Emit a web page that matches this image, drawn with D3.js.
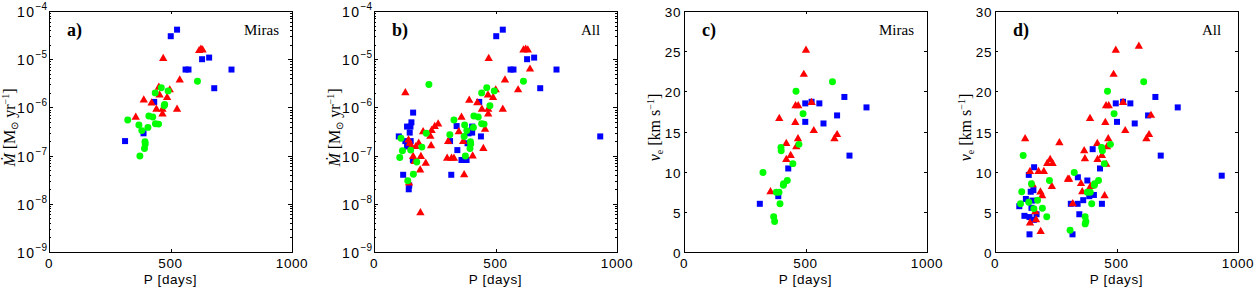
<!DOCTYPE html>
<html>
<head>
<meta charset="utf-8">
<script src="https://cdn.jsdelivr.net/npm/d3@7"></script>
<style>
body { margin: 0; background: #fff; }
text { fill: #000; }
</style>
</head>
<body>
<div id="chart"></div>
<script>
// ---- a) Miras : P [days] vs mass-loss rate ----
const aBlue = [[501,3.0e-5],[527,4.1e-5],[562,6.1e-6],[574,6.1e-6],[630,1.0e-5],[659,1.08e-5],[680,2.5e-6],[751,6.1e-6],[433,1.3e-6],[389,2.9e-7],[313,2.0e-7]];
const aRed = [[618,1.5e-5],[625,1.6e-5],[632,1.55e-5],[470,1.03e-5],[538,3.7e-6],[497,2.3e-6],[452,2.6e-6],[455,1.8e-6],[486,1.6e-6],[390,1.42e-6],[422,1.23e-6],[442,9.1e-7],[467,9.1e-7],[527,9.1e-7],[467,7.3e-7],[357,6.2e-7]];
const aGreen = [[611,3.5e-6],[462,2.55e-6],[437,2.0e-6],[490,2.2e-6],[474,1.08e-6],[476,1.15e-6],[411,6.6e-7],[427,6.3e-7],[324,5.5e-7],[370,4.3e-7],[407,3.85e-7],[438,4.6e-7],[451,4.5e-7],[382,3.3e-7],[395,1.95e-7],[396,1.74e-7],[393,1.4e-7],[374,9.8e-8]];

// ---- b) All : P vs mass-loss rate ----
const bBlue = [[503,3.0e-5],[530,4.1e-5],[562,6.1e-6],[574,6.1e-6],[630,1.0e-5],[659,1.08e-5],[684,2.5e-6],[751,6.1e-6],[433,1.3e-6],[389,2.9e-7],[313,2.0e-7],
  [931,2.5e-7],[102,2.5e-7],[129,2.0e-7],[136,4.0e-7],[150,4.0e-7],[154,4.9e-7],[161,7.8e-7],[147,3.0e-7],[151,2.0e-7],[136,1.55e-7],[120,4.0e-8],[143,2.0e-8],[145,2.4e-8],[160,8.0e-8],
  [340,4.1e-7],[343,1.3e-7],[318,4.0e-8],[360,8.1e-8],[381,8.1e-8],[404,4.0e-7],[404,3.0e-7],[385,1.8e-7],[440,2.5e-7]];
const bRed = [[129,2.0e-6],[472,1.03e-5],[615,1.55e-5],[624,1.6e-5],[633,1.55e-5],[642,6.2e-6],[593,2.3e-6],[539,3.7e-6],[501,2.3e-6],[469,1.8e-6],[490,1.6e-6],[392,1.4e-6],[425,1.25e-6],
  [444,9.1e-7],[470,9.1e-7],[530,9.1e-7],[470,7.3e-7],[360,6.2e-7],[457,3.5e-7],[450,1.4e-7],[406,9.8e-8],[367,1.95e-7],[305,1.95e-7],[349,3.1e-7],[301,8.8e-8],[319,8.8e-8],[329,8.8e-8],
  [371,4.0e-8],[264,4.5e-7],[250,4.0e-7],[237,3.3e-7],[232,2.5e-7],[235,1.6e-7],[202,3.1e-7],[193,9.5e-8],[213,6.9e-8],[190,5.0e-8],[191,6.5e-9],[161,9.5e-8],[168,7.5e-8],
  [184,1.8e-7],[147,1.8e-7],[172,1.53e-7],[154,1.53e-7],[144,2.7e-8],[142,2.1e-7]];
const bGreen = [[226,3.0e-6],[615,3.5e-6],[464,2.55e-6],[443,2.0e-6],[495,2.2e-6],[477,1.08e-6],[411,6.6e-7],[429,6.3e-7],[329,5.5e-7],[373,4.3e-7],[409,3.85e-7],[443,4.6e-7],[453,4.5e-7],
  [382,3.3e-7],[397,1.95e-7],[398,1.74e-7],[395,1.4e-7],[376,9.8e-8],[312,2.7e-7],[371,2.5e-7],[215,2.9e-7],[111,2.3e-7],[117,1.26e-7],[106,9.1e-8],[151,1.3e-7],[197,1.5e-7],
  [176,7.4e-8],[162,4.1e-8],[139,3.0e-8]];

// ---- c) Miras : P vs expansion velocity ----
const cBlue = [[312,6.0],[388,6.95],[429,10.4],[499,18.5],[525,18.7],[557,18.5],[499,16.2],[574,16.0],[630,17.0],[660,19.3],[751,18.0],[681,12.0]];
const cRed = [[502,25.1],[493,22.1],[392,16.6],[459,18.2],[470,18.2],[458,16.1],[525,18.6],[534,15.1],[469,14.1],[421,13.5],[462,13.1],[439,12.0],[421,11.5],[356,7.5],[619,14.1],[630,14.6]];
const cGreen = [[325,9.9],[611,21.2],[461,20.0],[490,17.2],[473,13.4],[399,13.0],[400,12.6],[448,11.0],[425,8.9],[410,8.5],[409,8.3],[380,7.45],[391,7.45],[395,6.0],[369,4.4],[373,3.8]];

// ---- d) All : P vs expansion velocity ----
const dBlue = [[497,18.5],[527,18.7],[557,18.5],[502,16.2],[575,16.0],[630,17.0],[660,19.3],[752,18.0],[682,12.0],[933,9.5],[402,12.8],[432,10.4],[380,8.9],[341,9.3],[340,6.0],[312,6.0],
  [347,4.7],[363,6.45],[407,7.1],[388,6.95],[440,6.0],[319,2.2],[161,10.55],[139,9.6],[100,5.7],[127,6.6],[121,4.5],[142,4.35],[147,7.5],[158,7.7],[154,6.4],[150,5.5],[160,4.0],[171,4.7],[142,2.2]];
const dRed = [[124,14.1],[144,10.0],[179,10.0],[201,10.0],[215,11.0],[227,11.5],[237,11.0],[265,13.6],[234,8.15],[187,7.45],[194,7.0],[155,8.35],[166,5.0],[169,4.0],[144,3.6],[188,2.55],
  [300,9.05],[305,9.05],[320,6.0],[354,8.5],[359,7.5],[367,12.6],[370,11.6],[391,16.6],[393,8.15],[421,13.5],[422,11.5],[440,12.0],[461,13.1],[466,14.1],[458,10.9],[451,7.0],[454,16.1],
  [457,18.2],[468,18.2],[488,22.1],[497,25.1],[592,25.6],[527,18.6],[536,15.1],[623,14.1],[634,14.6],[642,17.0]];
const dGreen = [[116,12.0],[110,7.5],[105,6.0],[139,6.2],[150,8.5],[160,5.4],[175,6.45],[195,5.45],[213,4.4],[224,8.9],[309,2.7],[326,9.9],[463,20.0],[612,21.2],[490,17.2],[475,13.4],
  [439,13.0],[442,12.6],[450,11.0],[426,8.9],[410,8.5],[409,8.3],[380,7.45],[392,7.45],[398,6.0],[371,4.4],[374,3.8],[371,3.5]];

const xTicks = [0, 500, 1000];
const logTicks = [-4, -5, -6, -7, -8, -9];
const velTicks = [0, 5, 10, 15, 20, 25, 30];

const panels = [
  { left: 49,  tag: 'a)', sample: 'Miras', kind: 'mdot', blue: aBlue, red: aRed, green: aGreen },
  { left: 374, tag: 'b)', sample: 'All',   kind: 'mdot', blue: bBlue, red: bRed, green: bGreen },
  { left: 684, tag: 'c)', sample: 'Miras', kind: 've',   blue: cBlue, red: cRed, green: cGreen },
  { left: 995, tag: 'd)', sample: 'All',   kind: 've',   blue: dBlue, red: dRed, green: dGreen }
];

var width = 1254, height = 287;
var top0 = 11, pw = 243, ph = 241;

var svg = d3.select('#chart').append('svg')
  .attr('width', width)
  .attr('height', height)
  .style('display', 'block')
  .style('background', '#fff');

var sans = 'Liberation Sans, Arial, Helvetica, sans-serif';
var serif = 'Liberation Serif, Times New Roman, serif';

panels.forEach(function (p) {
  var g = svg.append('g').attr('transform', 'translate(' + p.left + ',' + top0 + ')');

  var x = d3.scaleLinear().domain([0, 1000]).range([0, pw]);
  var y;
  if (p.kind == 'mdot') {
    y = d3.scaleLog().domain([1e-9, 1e-4]).range([ph, 0]);
  } else {
    y = d3.scaleLinear().domain([0, 30]).range([ph, 0]);
  }

  // box
  g.append('rect')
    .attr('x', 0.5).attr('y', 0.5)
    .attr('width', pw).attr('height', ph)
    .attr('fill', 'none').attr('stroke', '#000').attr('stroke-width', 1);

  // x ticks (bottom + top, inward)
  xTicks.forEach(function (t) {
    var xx = Math.round(x(t)) + 0.5;
    g.append('line').attr('x1', xx).attr('x2', xx).attr('y1', ph).attr('y2', ph - 3).attr('stroke', '#000');
    g.append('line').attr('x1', xx).attr('x2', xx).attr('y1', 0).attr('y2', 3).attr('stroke', '#000');
    g.append('text')
      .attr('x', x(t)).attr('y', ph + 16)
      .attr('text-anchor', 'middle')
      .style('font-family', sans).style('font-size', '13.5px').style('letter-spacing', '0.6px')
      .text(t);
  });

  // y ticks
  if (p.kind == 'mdot') {
    logTicks.forEach(function (e) {
      var yy = Math.round(y(Math.pow(10, e))) + 0.5;
      g.append('line').attr('x1', 0).attr('x2', 4).attr('y1', yy).attr('y2', yy).attr('stroke', '#000');
      g.append('line').attr('x1', pw).attr('x2', pw - 4).attr('y1', yy).attr('y2', yy).attr('stroke', '#000');
      var t = g.append('text')
        .attr('x', -2).attr('y', yy + 5)
        .attr('text-anchor', 'end')
        .style('font-family', sans).style('font-size', '14px');
      t.append('tspan').style('letter-spacing', '1.5px').text('10');
      t.append('tspan').attr('dy', -7).style('font-size', '10px').text('\u2212' + (-e));
    });
    // minor ticks
    for (var e = -9; e < -4; e++) {
      for (var k = 2; k <= 9; k++) {
        var ym = Math.round(y(k * Math.pow(10, e))) + 0.5;
        g.append('line').attr('x1', 0).attr('x2', 2).attr('y1', ym).attr('y2', ym).attr('stroke', '#000');
        g.append('line').attr('x1', pw).attr('x2', pw - 2).attr('y1', ym).attr('y2', ym).attr('stroke', '#000');
      }
    }
  } else {
    velTicks.forEach(function (t) {
      var yy = Math.round(y(t)) + 0.5;
      g.append('line').attr('x1', 0).attr('x2', 3).attr('y1', yy).attr('y2', yy).attr('stroke', '#000');
      g.append('line').attr('x1', pw).attr('x2', pw - 3).attr('y1', yy).attr('y2', yy).attr('stroke', '#000');
      g.append('text')
        .attr('x', -3).attr('y', yy + 5)
        .attr('text-anchor', 'end')
        .style('font-family', sans).style('font-size', '13.5px').style('letter-spacing', '0.6px')
        .text(t);
    });
  }

  // x label
  g.append('text')
    .attr('x', pw / 2).attr('y', ph + 32)
    .attr('text-anchor', 'middle')
    .style('font-family', sans).style('font-size', '13.5px').style('letter-spacing', '0.6px')
    .text('P [days]');

  // y label
  var yl = g.append('text')
    .attr('transform', 'translate(' + (p.kind == 'mdot' ? -34 : -24) + ',' + (ph / 2 - 4) + ') rotate(-90)')
    .attr('text-anchor', 'middle')
    .style('font-family', serif).style('font-size', '16px');
  if (p.kind == 'mdot') {
    yl.append('tspan').style('font-style', 'italic').text('\u1E40');
    yl.append('tspan').text(' [M');
    yl.append('tspan').attr('dy', 3).style('font-size', '10px').text('\u2299');
    yl.append('tspan').attr('dy', -3).text(' yr');
    yl.append('tspan').attr('dy', -6).style('font-size', '10px').text('\u22121');
    yl.append('tspan').attr('dy', 6).text(']');
  } else {
    yl.append('tspan').style('font-style', 'italic').text('v');
    yl.append('tspan').attr('dy', 3).style('font-size', '10px').text('e');
    yl.append('tspan').attr('dy', -3).text(' [km s');
    yl.append('tspan').attr('dy', -6).style('font-size', '10px').text('\u22121');
    yl.append('tspan').attr('dy', 6).text(']');
  }

  // panel tag and sample name
  g.append('text')
    .attr('x', 18).attr('y', 25)
    .style('font-family', serif).style('font-size', '18px').style('font-weight', 'bold')
    .text(p.tag);
  g.append('text')
    .attr('x', p.sample == 'Miras' ? 195 : 207).attr('y', 24)
    .style('font-family', serif).style('font-size', '15px')
    .text(p.sample);

  // markers: blue squares, red triangles, green circles
  var series = [
    { data: p.blue,  color: '#0000ff', sym: d3.symbolSquare,   size: 36 },
    { data: p.red,   color: '#ff0000', sym: d3.symbolTriangle, size: 30 },
    { data: p.green, color: '#00ff00', sym: d3.symbolCircle,   size: 38 }
  ];
  series.forEach(function (s) {
    g.append('g').selectAll('path')
      .data(s.data)
      .enter()
      .append('path')
      .attr('d', d3.symbol().type(s.sym).size(s.size))
      .attr('transform', function (d) { return 'translate(' + x(d[0]) + ',' + y(d[1]) + ')'; })
      .attr('fill', s.color);
  });
});
</script>
</body>
</html>
